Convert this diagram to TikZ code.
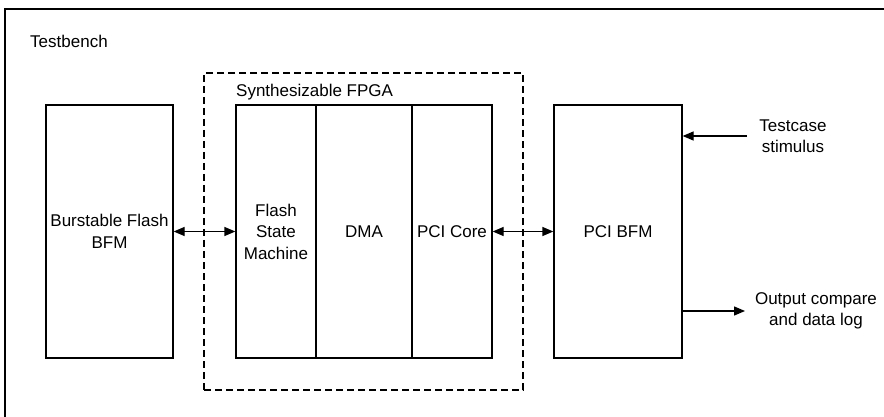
\documentclass[tikz,border=0pt]{standalone}
\usepackage{fontspec}
\setmainfont{Liberation Sans}
\usetikzlibrary{arrows.meta}
\begin{document}
\begin{tikzpicture}[x=1pt,y=-1pt,
  every node/.style={font=\fontsize{17}{21.5}\selectfont},
  blk/.style={draw, line width=1.3pt, inner sep=0pt, align=center, minimum height=253pt},
  lbl/.style={inner sep=0pt, align=center},
  conn/.style={line width=1.3pt, -{Triangle[length=11pt,width=9pt]}},
  biconn/.style={line width=1.3pt, {Triangle[length=11pt,width=9pt]}-{Triangle[length=11pt,width=9pt]}}
]
\useasboundingbox (0,0) rectangle (884,417);
% outer testbench frame (cropped)
\draw[line width=1.3pt] (5,417) -- (5,9) -- (884,9);
\node[lbl, anchor=west] (tb) at (30,41) {Testbench};
% dashed FPGA boundary
\node[draw, dash pattern=on 7pt off 4pt, line width=1.3pt, minimum width=319pt, minimum height=317pt, inner sep=0pt] (fpga) at (363.5,231.5) {};
\node[lbl, anchor=west] (fpgalbl) at (236,92) {Synthesizable FPGA};
% blocks
\node[blk, minimum width=127pt] (bfm) at (109.5,231.5) {Burstable Flash\\BFM};
\node[blk, minimum width=80pt] (fsm) at (276,231.5) {Flash\\State\\Machine};
\node[blk, minimum width=96pt] (dma) at (364,231.5) {DMA};
\node[blk, minimum width=80pt] (pcicore) at (452,231.5) {PCI Core};
\node[blk, minimum width=128pt] (pcibfm) at (618,231.5) {PCI BFM};
% external labels
\node[lbl] (stim) at (793,136) {Testcase\\stimulus};
\node[lbl] (out) at (816,311) {Output compare\\and data log};
\coordinate (stimend) at (747,136);
\coordinate (outend) at (745,311);
% connectors
\draw[biconn] (bfm.east) -- (fsm.west);
\draw[biconn] (pcicore.east) -- (pcibfm.west);
\draw[conn] (stimend) -- (stimend -| pcibfm.east);
\draw[conn] (outend -| pcibfm.east) -- (outend);
\end{tikzpicture}
\end{document}
